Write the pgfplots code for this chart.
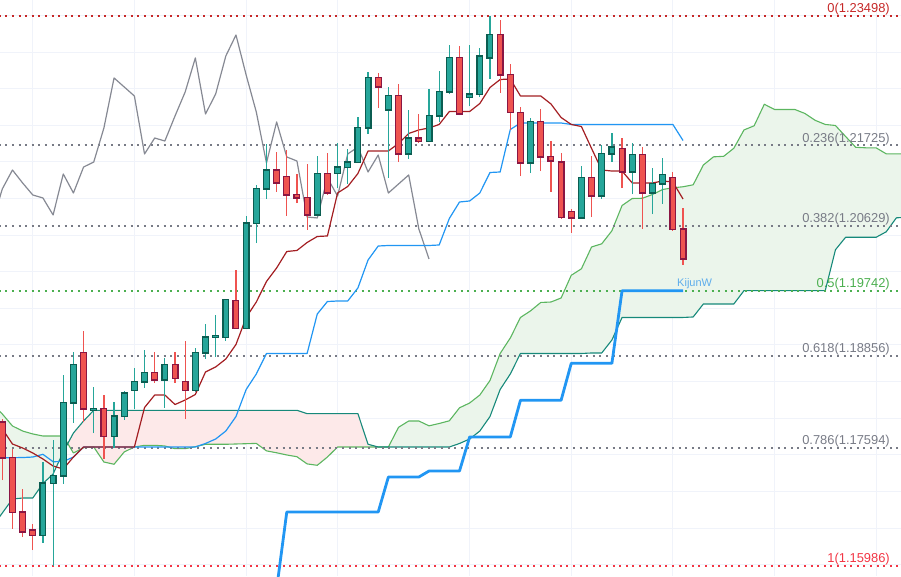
\documentclass[border=0pt]{standalone}
\usepackage{pgfplots}
\pgfplotsset{compat=1.18}
\usepackage{pgfplotstable}
\usepgfplotslibrary{fillbetween}
\usepackage{fontspec}
\setmainfont{Liberation Sans}

\definecolor{upc}{HTML}{26A69A}
\definecolor{upb}{HTML}{0B5D51}
\definecolor{dnc}{HTML}{EF5350}
\definecolor{dnb}{HTML}{8A1643}
\definecolor{tenk}{HTML}{A31E22}
\definecolor{kij}{HTML}{2196F3}
\definecolor{kijlab}{HTML}{5EADEB}
\definecolor{chik}{HTML}{868993}
\definecolor{spa}{HTML}{5CB660}
\definecolor{spb}{HTML}{16897A}
\definecolor{cloudg}{HTML}{EBF5EB}
\definecolor{cloudr}{HTML}{FDE9E9}
\definecolor{fibgrey}{HTML}{787B86}
\definecolor{fibredA}{HTML}{C62828}
\definecolor{fibredB}{HTML}{F23645}
\definecolor{fibgreen}{HTML}{4CAF50}
\definecolor{gridc}{HTML}{F0F3FA}

\tikzset{
  fiblab/.style={anchor=base east, inner sep=0pt, yshift=3pt,
     font=\fontsize{12.9pt}{15pt}\selectfont},
  fibline/.style={line width=2pt, dash pattern=on 2pt off 4.6pt},
}
\pgfplotsset{
  candlebar/.style={forget plot, draw=none, mark=none, mark size=0pt,
    error bars/y dir=plus, error bars/y explicit, error bars/error mark=none},
}

% up candles: index, open, high, low, close
\pgfplotstableread{
x O H L C
4 1.16405 1.17402 1.16296 1.17115
5 1.17115 1.17703 1.15986 1.17211
6 1.17211 1.18590 1.17102 1.18208
7 1.18208 1.18904 1.17935 1.18727
9 1.18112 1.18426 1.17798 1.18126
11 1.17757 1.18222 1.17593 1.18030
12 1.18030 1.18372 1.17976 1.18344
13 1.18385 1.18686 1.18126 1.18495
14 1.18495 1.18932 1.18413 1.18618
16 1.18522 1.18822 1.18140 1.18727
19 1.18385 1.18959 1.18358 1.18891
20 1.18891 1.19287 1.18809 1.19109
21 1.19109 1.19410 1.18836 1.19123
22 1.19109 1.19628 1.19055 1.19615
24 1.19232 1.20762 1.19225 1.20666
25 1.20666 1.21185 1.20393 1.21131
26 1.21131 1.21745 1.20994 1.21390
31 1.20776 1.21581 1.20772 1.21336
33 1.21349 1.21759 1.21144 1.21431
34 1.21431 1.21677 1.21199 1.21499
35 1.21499 1.22114 1.21486 1.21964
36 1.21964 1.22729 1.21882 1.22647
38 1.22210 1.22524 1.21281 1.22401
40 1.21609 1.22210 1.21540 1.21827
42 1.21786 1.22497 1.21773 1.22128
43 1.22128 1.22742 1.22046 1.22456
44 1.22456 1.23097 1.22428 1.22920
46 1.22387 1.23097 1.22264 1.22428
47 1.22428 1.23056 1.22387 1.22947
48 1.22920 1.23498 1.22633 1.23234
52 1.21486 1.22100 1.21349 1.22046
57 1.20735 1.21445 1.20730 1.21281
59 1.21035 1.21732 1.20994 1.21609
60 1.21609 1.21896 1.21499 1.21704
62 1.21363 1.21759 1.21062 1.21595
64 1.21076 1.21417 1.20789 1.21199
65 1.21199 1.21554 1.20926 1.21322
}\upT

% down candles: index, open, high, low, close
\pgfplotstableread{
x O H L C
0 1.17948 1.17989 1.17156 1.17457
1 1.17457 1.17580 1.16487 1.16719
2 1.16719 1.17033 1.16378 1.16446
3 1.16473 1.16555 1.16200 1.16405
8 1.18891 1.19191 1.17948 1.18126
10 1.18126 1.18317 1.17443 1.17757
15 1.18618 1.18904 1.18481 1.18522
17 1.18727 1.18904 1.18481 1.18549
18 1.18495 1.19055 1.17989 1.18385
23 1.19601 1.20024 1.19219 1.19232
27 1.21390 1.21636 1.21090 1.21213
28 1.21295 1.21663 1.20762 1.21049
29 1.21049 1.21336 1.20939 1.21008
30 1.21008 1.21472 1.20571 1.20776
32 1.21336 1.21622 1.21049 1.21076
37 1.22647 1.22715 1.22237 1.22524
39 1.22401 1.22565 1.21499 1.21609
41 1.21827 1.22155 1.21759 1.21786
45 1.22920 1.23084 1.22141 1.22155
49 1.23234 1.23439 1.22442 1.22688
50 1.22688 1.22838 1.21937 1.22182
51 1.22169 1.22251 1.21308 1.21486
53 1.22046 1.22223 1.21376 1.21568
54 1.21568 1.21786 1.21090 1.21513
55 1.21499 1.21622 1.20721 1.20748
56 1.20817 1.20858 1.20530 1.20735
58 1.21281 1.21581 1.20748 1.21035
61 1.21677 1.21827 1.21144 1.21363
63 1.21595 1.21704 1.20584 1.21076
66 1.21281 1.21363 1.20557 1.20584
67 1.20584 1.20871 1.20093 1.20175
}\dnT

% conversion line
\pgfplotstableread{
x y
-1 1.17935
0 1.17853
1 1.17648
2 1.17593
3 1.17525
4 1.17443
5 1.17347
6 1.17306
7 1.17470
8 1.17607
13 1.17607
14 1.18146
15 1.18317
16 1.18317
17 1.18187
18 1.18249
19 1.18324
20 1.18631
21 1.18700
22 1.18809
23 1.19007
24 1.19376
25 1.19587
26 1.19867
27 1.20052
28 1.20277
29 1.20291
30 1.20400
31 1.20482
32 1.20489
33 1.21076
34 1.21165
35 1.21342
36 1.21650
38 1.21650
39 1.21752
40 1.21889
41 1.21937
42 1.21964
43 1.22012
44 1.22189
46 1.22189
47 1.22298
48 1.22517
49 1.22626
50 1.22633
51 1.22401
53 1.22401
54 1.22292
55 1.22107
56 1.22012
57 1.21984
58 1.21684
59 1.21390
60 1.21376
61 1.21376
62 1.21213
64 1.21213
65 1.21240
66 1.21226
67 1.20994
}\tenkanT

% base line
\pgfplotstableread{
x y
-1 1.17461
1 1.17461
2 1.17463
3 1.17470
4 1.17507
5 1.17406
6 1.17409
7 1.17470
8 1.17607
19 1.17607
20 1.17655
21 1.17716
22 1.17825
23 1.18023
24 1.18392
25 1.18604
26 1.18884
30 1.18884
31 1.19423
32 1.19594
33 1.19601
34 1.19601
35 1.19779
36 1.20161
37 1.20352
38 1.20359
42 1.20359
43 1.20366
44 1.20728
45 1.20953
46 1.20967
47 1.21076
48 1.21356
49 1.21363
50 1.21943
51 1.22032
55 1.22032
56 1.22012
66 1.22012
67 1.21793
}\kijunT

% weekly base line
\pgfplotstableread{
x y
27 1.15668
28 1.16719
37 1.16719
38 1.17197
41 1.17197
42 1.17279
45 1.17279
46 1.17744
50 1.17744
51 1.18245
55 1.18245
56 1.18750
60 1.18750
61 1.19742
67 1.19742
}\kijunWT

% lagging span
\pgfplotstableread{
x y
-1 1.20666
0 1.21131
1 1.21390
2 1.21213
3 1.21049
4 1.21008
5 1.20776
6 1.21336
7 1.21076
8 1.21431
9 1.21499
10 1.21964
11 1.22647
12 1.22524
13 1.22401
14 1.21609
15 1.21827
16 1.21786
17 1.22128
18 1.22456
19 1.22920
20 1.22155
21 1.22428
22 1.22947
23 1.23234
24 1.22688
25 1.22182
26 1.21486
27 1.22046
28 1.21568
29 1.21513
30 1.20748
31 1.20735
32 1.21281
33 1.21035
34 1.21609
35 1.21704
36 1.21363
37 1.21595
38 1.21076
39 1.21199
40 1.21322
41 1.20584
42 1.20175
}\chikouT

% leading span A
\pgfplotstableread{
x y
-1 1.18194
0 1.18058
1 1.17894
2 1.17825
3 1.17785
4 1.17757
6 1.17757
7 1.17525
8 1.17597
9 1.17607
10 1.17402
11 1.17371
12 1.17539
13 1.17607
14 1.17630
15 1.17630
16 1.17621
17 1.17584
18 1.17584
19 1.17611
20 1.17644
22 1.17644
23 1.17648
24 1.17652
25 1.17656
26 1.17554
27 1.17528
28 1.17498
29 1.17474
30 1.17376
31 1.17357
32 1.17470
33 1.17607
38 1.17607
39 1.17876
40 1.17962
41 1.17962
42 1.17896
43 1.17928
44 1.17965
45 1.18142
46 1.18208
47 1.18317
48 1.18515
49 1.18884
50 1.19096
51 1.19376
52 1.19467
53 1.19581
54 1.19587
55 1.19642
56 1.19952
57 1.20041
58 1.20339
59 1.20382
60 1.20560
61 1.20905
62 1.21001
63 1.21004
64 1.21056
65 1.21124
66 1.21147
67 1.21161
68 1.21188
69 1.21458
70 1.21570
71 1.21577
72 1.21687
73 1.21937
74 1.21994
75 1.22288
76 1.22217
78 1.22217
79 1.22162
80 1.22069
81 1.22012
82 1.21998
83 1.21848
84 1.21700
85 1.21693
86 1.21693
87 1.21611
89 1.21611
90 1.21625
91 1.21618
92 1.21393
}\spanAT

% leading span B
\pgfplotstableread{
x y
-1 1.16514
0 1.16705
1 1.16897
2 1.16910
3 1.16910
4 1.17108
5 1.17238
6 1.17539
7 1.17798
8 1.17962
9 1.18108
29 1.18108
30 1.18062
35 1.18062
36 1.17644
37 1.17607
44 1.17607
45 1.17655
46 1.17716
47 1.17825
48 1.18023
49 1.18392
50 1.18604
51 1.18884
57 1.18884
58 1.18891
59 1.18891
60 1.19068
61 1.19376
67 1.19376
68 1.19383
69 1.19560
72 1.19560
73 1.19742
81 1.19742
82 1.20300
83 1.20471
86 1.20471
87 1.20546
88 1.20737
89 1.20744
92 1.20744
}\spanBT

\begin{document}
\begin{tikzpicture}
\begin{axis}[
  set layers,
  width=901pt, height=576pt, scale only axis,
  xmin=-0.2264, xmax=88.455,
  ymin=1.15845, ymax=1.23712,
  axis line style={draw=none},
  tick style={draw=none},
  major tick length=0pt,
  xtick={3,13,24,33,46,56,66,76,86},
  ytick={1.160,1.165,1.170,1.175,1.180,1.185,1.190,1.195,1.200,1.205,1.210,1.215,1.220,1.225,1.230,1.235},
  xticklabels={}, yticklabels={},
  grid=major,
  grid style={draw=gridc, line width=1pt},
]

% cloud lines and fill
\addplot[name path=SA, spa, line width=1.1pt, line join=round, forget plot] table[x=x,y=y] {\spanAT};
\addplot[name path=SB, spb, line width=1.1pt, line join=round, forget plot] table[x=x,y=y] {\spanBT};
\addplot[cloudg, forget plot] fill between[of=SA and SB, soft clip={domain=-1:6.444}];
\addplot[cloudr, forget plot] fill between[of=SA and SB, soft clip={domain=6.444:37}];
\addplot[cloudg, forget plot] fill between[of=SA and SB, soft clip={domain=37:93}];

% fibonacci levels
\addplot[fibline, fibredA, forget plot] coordinates {(-1,1.23498) (93,1.23498)};
\addplot[fibline, fibgrey, forget plot] coordinates {(-1,1.21725) (93,1.21725)};
\addplot[fibline, fibgrey, forget plot] coordinates {(-1,1.20629) (93,1.20629)};
\addplot[fibline, fibgreen, forget plot] coordinates {(-1,1.19742) (93,1.19742)};
\addplot[fibline, fibgrey, forget plot] coordinates {(-1,1.18856) (93,1.18856)};
\addplot[fibline, fibgrey, forget plot] coordinates {(-1,1.17594) (93,1.17594)};
\addplot[fibline, fibredB, forget plot] coordinates {(-1,1.15986) (93,1.15986)};

% ichimoku lines
\addplot[chik, line width=1.2pt, line join=round, forget plot] table[x=x,y=y] {\chikouT};
\addplot[kij, line width=1.2pt, line join=round, forget plot] table[x=x,y=y] {\kijunT};
\addplot[tenk, line width=1.2pt, line join=round, forget plot] table[x=x,y=y] {\tenkanT};
\addplot[kij, line width=2.8pt, line join=round, forget plot] table[x=x,y=y] {\kijunWT};

% wicks
\addplot[candlebar, error bars/error bar style={line width=1.2pt, draw=upc}]
  table[x=x, y=L, y error plus expr={\thisrow{H}-\thisrow{L}}] {\upT};
\addplot[candlebar, error bars/error bar style={line width=1.2pt, draw=dnc}]
  table[x=x, y=L, y error plus expr={\thisrow{H}-\thisrow{L}}] {\dnT};

% bodies (outline, then fill)
\addplot[candlebar, error bars/error bar style={line width=7pt, draw=upb, shorten <=-0.6pt, shorten >=-0.6pt}]
  table[x=x, y=O, y error plus expr={\thisrow{C}-\thisrow{O}}] {\upT};
\addplot[candlebar, error bars/error bar style={line width=4.6pt, draw=upc, shorten <=0.5pt, shorten >=0.5pt}]
  table[x=x, y=O, y error plus expr={\thisrow{C}-\thisrow{O}}] {\upT};
\addplot[candlebar, error bars/error bar style={line width=7pt, draw=dnb, shorten <=-0.6pt, shorten >=-0.6pt}]
  table[x=x, y=C, y error plus expr={\thisrow{O}-\thisrow{C}}] {\dnT};
\addplot[candlebar, error bars/error bar style={line width=4.6pt, draw=dnc, shorten <=0.5pt, shorten >=0.5pt}]
  table[x=x, y=C, y error plus expr={\thisrow{O}-\thisrow{C}}] {\dnT};

% labels
\node[fiblab, text=fibredA] at (axis cs:87.37,1.23498) {0(1.23498)};
\node[fiblab, text=fibgrey] at (axis cs:87.37,1.21725) {0.236(1.21725)};
\node[fiblab, text=fibgrey] at (axis cs:87.37,1.20629) {0.382(1.20629)};
\node[fiblab, text=fibgreen] at (axis cs:87.37,1.19742) {0.5(1.19742)};
\node[fiblab, text=fibgrey] at (axis cs:87.37,1.18856) {0.618(1.18856)};
\node[fiblab, text=fibgrey] at (axis cs:87.37,1.17594) {0.786(1.17594)};
\node[fiblab, text=fibredB] at (axis cs:87.37,1.15986) {1(1.15986)};
\node[anchor=base west, inner sep=0pt, text=kijlab,
  font=\fontsize{11pt}{13pt}\selectfont] at (axis cs:66.41,1.19796) {KijunW};
\end{axis}
\pgfresetboundingbox
\useasboundingbox (current axis.south west) rectangle (current axis.north east);
\end{tikzpicture}
\end{document}
